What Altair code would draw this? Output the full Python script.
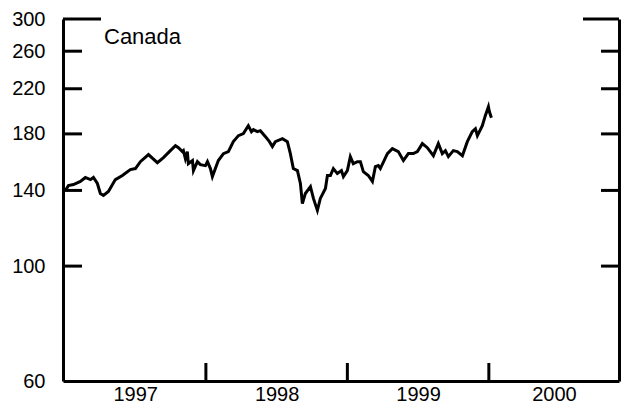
import altair as alt
import pandas as pd

# Weekly-ish index level for Canada (decimal years)
years = [
    1997.007, 1997.028, 1997.064, 1997.113, 1997.148, 1997.184, 1997.205, 1997.233,
    1997.254, 1997.276, 1997.311, 1997.360, 1997.410, 1997.466, 1997.502, 1997.537,
    1997.594, 1997.657, 1997.700, 1997.749, 1997.785, 1997.806, 1997.834, 1997.841,
    1997.855, 1997.869, 1997.876, 1997.905, 1997.912, 1997.940, 1997.961, 1997.997,
    1998.011, 1998.032, 1998.046, 1998.067, 1998.088, 1998.124, 1998.159, 1998.194,
    1998.230, 1998.265, 1998.300, 1998.322, 1998.336, 1998.364, 1998.385, 1998.421,
    1998.449, 1998.470, 1998.491, 1998.541, 1998.576, 1998.597, 1998.618, 1998.647,
    1998.668, 1998.682, 1998.703, 1998.739, 1998.760, 1998.788, 1998.809, 1998.845,
    1998.859, 1998.880, 1998.901, 1998.929, 1998.958, 1998.972, 1999.000, 1999.021,
    1999.042, 1999.071, 1999.092, 1999.113, 1999.148, 1999.177, 1999.198, 1999.219,
    1999.233, 1999.283, 1999.318, 1999.360, 1999.396, 1999.431, 1999.466, 1999.495,
    1999.530, 1999.565, 1999.608, 1999.643, 1999.671, 1999.693, 1999.714, 1999.749,
    1999.777, 1999.813, 1999.848, 1999.883, 1999.905, 1999.919, 1999.954, 1999.975,
    1999.997, 2000.004, 2000.018,
]
values = [
    140.0, 143.0, 143.7, 145.7, 148.3, 146.9, 148.3, 144.4,
    138.1, 136.9, 139.3, 146.9, 149.6, 153.6, 154.3, 159.1,
    164.2, 158.4, 162.0, 167.1, 170.8, 169.3, 166.4, 167.1,
    161.3, 166.4, 157.7, 159.9, 152.9, 159.1, 157.0, 156.3,
    159.1, 154.3, 148.9, 154.3, 159.9, 164.9, 166.4, 173.9,
    178.6, 180.2, 186.7, 181.8, 183.4, 181.8, 182.6, 177.8,
    173.9, 170.1, 173.9, 176.2, 173.9, 164.9, 154.3, 152.9,
    144.4, 132.1, 138.1, 142.4, 135.1, 128.1, 135.1, 141.2,
    149.6, 149.6, 154.3, 150.9, 152.9, 148.9, 152.9, 162.7,
    157.7, 159.1, 159.1, 152.2, 149.6, 145.7, 155.6, 156.3,
    154.3, 164.9, 168.6, 166.4, 159.9, 164.9, 164.9, 166.4,
    172.4, 169.3, 163.4, 172.4, 164.9, 167.1, 162.7, 167.1,
    166.4, 163.4, 173.9, 181.8, 184.2, 178.6, 186.7, 195.2,
    203.1, 198.6, 193.4,
]

y_ticks = [60, 100, 140, 180, 220, 260, 300]
inner_ticks = [100, 140, 180, 220, 260]
top_tick = [300]
year_bounds = [1998, 1999, 2000]
label_pos = [1997.5, 1998.5, 1999.5, 2000.46]
title_text = "Canada"

W, H = 556, 362
FONT = "Liberation Sans"
SW = 3

df = pd.DataFrame({"year": years, "value": values})
ticks_df = pd.DataFrame({"v": inner_ticks})
top_df = pd.DataFrame({"v": top_tick})
bounds_df = pd.DataFrame({"year": year_bounds})

xscale = alt.Scale(domain=[1996.99, 2000.92], nice=False, zero=False)
yscale = alt.Scale(type="log", domain=[60, 300], nice=False)

xaxis = alt.Axis(values=label_pos, labelExpr="floor(datum.value)",
                 ticks=False, tickSize=0, grid=False, labelPadding=3,
                 domainColor="black", domainWidth=SW, labelFontSize=20,
                 labelColor="black", labelFont=FONT, labelFlush=False)

line = alt.Chart(df).mark_line(color="black", strokeWidth=SW, strokeJoin="miter").encode(
    x=alt.X("year:Q", scale=xscale, title=None, axis=xaxis),
    y=alt.Y("value:Q", scale=yscale, title=None,
            axis=alt.Axis(values=y_ticks, format="d", ticks=False, tickSize=0,
                          grid=False, labelPadding=18, domainColor="black",
                          domainWidth=SW, labelFontSize=20, labelColor="black",
                          labelFont=FONT, labelFlush=False)),
)

right_axis = alt.Chart(ticks_df).mark_rule(opacity=0).encode(
    y=alt.Y("v:Q", scale=yscale, title=None,
            axis=alt.Axis(orient="right", labels=False, ticks=False, tickSize=0,
                          grid=False, domainColor="black", domainWidth=SW)),
)

left_ticks = alt.Chart(ticks_df).mark_rule(color="black", strokeWidth=SW).encode(
    y=alt.Y("v:Q", scale=yscale, axis=None), x=alt.value(0), x2=alt.value(19))
right_ticks = alt.Chart(ticks_df).mark_rule(color="black", strokeWidth=SW).encode(
    y=alt.Y("v:Q", scale=yscale, axis=None), x=alt.value(W - 18), x2=alt.value(W))
top_left = alt.Chart(top_df).mark_rule(color="black", strokeWidth=SW).encode(
    y=alt.Y("v:Q", scale=yscale, axis=None), x=alt.value(0), x2=alt.value(38))
top_right = alt.Chart(top_df).mark_rule(color="black", strokeWidth=SW).encode(
    y=alt.Y("v:Q", scale=yscale, axis=None), x=alt.value(W - 36), x2=alt.value(W))
bottom_ticks = alt.Chart(bounds_df).mark_rule(color="black", strokeWidth=SW).encode(
    x=alt.X("year:Q", scale=xscale, title=None, axis=xaxis),
    y=alt.value(H - 18), y2=alt.value(H))

label = alt.Chart(pd.DataFrame({"t": [title_text]})).mark_text(
    align="left", baseline="middle", fontSize=22, font=FONT, color="black"
).encode(x=alt.value(41), y=alt.value(18), text="t:N")

chart = alt.layer(
    line, right_axis, left_ticks, right_ticks, top_left, top_right, bottom_ticks, label
).resolve_axis(y="independent").properties(
    width=W, height=H,
    autosize=alt.AutoSizeParams(type="none"),
    padding={"left": 55, "top": 11, "right": 2, "bottom": 25},
).configure_view(stroke=None)

chart.save("out.html", embed_options={"renderer": "svg", "actions": False})
